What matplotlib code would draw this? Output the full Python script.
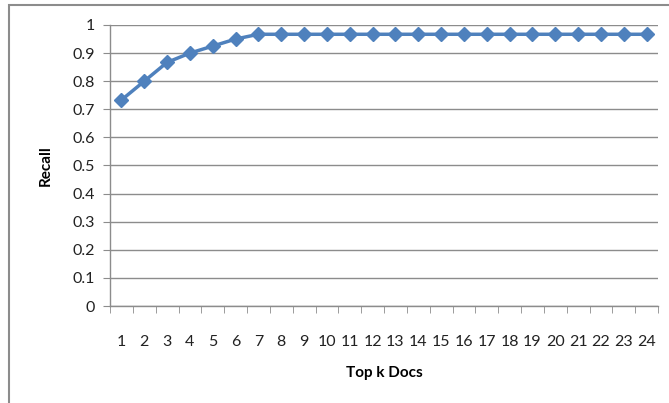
import matplotlib
matplotlib.use("Agg")
import matplotlib.pyplot as plt
from matplotlib.patches import Rectangle
import numpy as np

k_docs = list(range(1, 25))
recall = [0.733, 0.800, 0.867, 0.900, 0.925, 0.950] + [0.967] * 18
y_ticks = [0, 0.1, 0.2, 0.3, 0.4, 0.5, 0.6, 0.7, 0.8, 0.9, 1]
y_labels = ["0", "0.1", "0.2", "0.3", "0.4", "0.5", "0.6", "0.7", "0.8", "0.9", "1"]

plt.rcParams['font.family'] = ['Lato', 'DejaVu Sans']

W, H = 669, 403
fig = plt.figure(figsize=(W / 100, H / 100), dpi=100)
ax = fig.add_axes([110 / W, 1 - 306 / H, (658 - 110) / W, (306 - 25) / H])

# outer chart frame
fig.patches.append(Rectangle((9 / W, -0.1), 1.2, 1 - 5 / H + 0.1, transform=fig.transFigure,
                             fill=False, edgecolor='#8c8c8c', linewidth=1.5))

ax.plot(k_docs, recall, color='#4F81BD', linewidth=2.5, marker='D', markersize=7,
        markerfacecolor='#4F81BD', markeredgecolor='#4F81BD', zorder=3)

ax.set_xlim(0.5, 24.5)
ax.set_ylim(0, 1)
ax.set_yticks(y_ticks)
ax.set_yticklabels(y_labels, fontsize=11.5, color='#222222')
ax.yaxis.grid(True, color='#8c8c8c', linewidth=1)
ax.set_axisbelow(True)

ax.set_xticks(k_docs)
ax.set_xticklabels([str(k) for k in k_docs], fontsize=11.5, color='#222222')
ax.tick_params(axis='x', which='major', length=0, pad=21)
ax.set_xticks(np.arange(0.5, 25, 1), minor=True)
ax.tick_params(axis='x', which='minor', length=5, color='#8c8c8c', direction='out')
ax.tick_params(axis='y', length=5, color='#8c8c8c', pad=6)

for s in ['top', 'right']:
    ax.spines[s].set_visible(False)
for s in ['left', 'bottom']:
    ax.spines[s].set_color('#8c8c8c')
    ax.spines[s].set_linewidth(1)

ax.set_xlabel("Top k Docs", fontsize=11, fontweight='bold', labelpad=12)
ax.set_ylabel("Recall", fontsize=11, fontweight='bold', labelpad=14)

fig.savefig("out.png", dpi=100)
